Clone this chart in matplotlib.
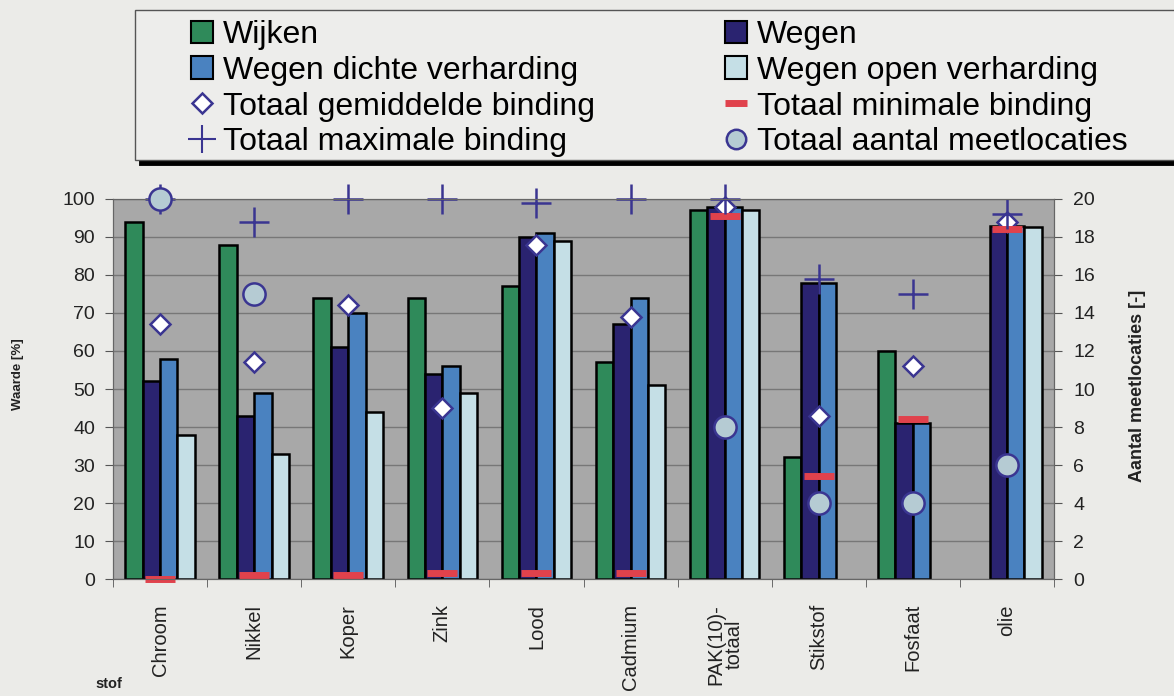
import numpy as np
import matplotlib
matplotlib.use("Agg")
import matplotlib.pyplot as plt
from matplotlib.patches import Patch, Rectangle
from matplotlib.lines import Line2D

plt.rcParams['font.family'] = ['Liberation Sans', 'DejaVu Sans']

nan = np.nan
stoffen = ['Chroom', 'Nikkel', 'Koper', 'Zink', 'Lood', 'Cadmium',
           'PAK(10)-\ntotaal', 'Stikstof', 'Fosfaat', 'olie']
wijken = [94, 88, 74, 74, 77, 57, 97, 32, 60, nan]
wegen = [52, 43, 61, 54, 90, 67, 98, 78, 41, 93]
wegen_dicht = [58, 49, 70, 56, 91, 74, 98, 78, 41, 93]
wegen_open = [38, 33, 44, 49, 89, 51, 97, nan, nan, 92.5]
gem_binding = [67, 57, 72, 45, 88, 69, 98, 43, 56, 94]
min_binding = [0, 1, 1, 1.5, 1.5, 1.5, 95.5, 27, 42, 92]
max_binding = [100, 94, 100, 100, 99, 100, 100, 79, 75, 96]
aantal_locaties = [20, 15, nan, nan, nan, nan, 8, 4, 4, 6]

c_wijken = '#2f8a5a'
c_wegen = '#2a2370'
c_dicht = '#4a82c0'
c_open = '#c5dfe6'
c_marker = '#3a3591'
c_min = '#e0424c'
c_circle = '#b5cbd3'

W, H = 1174, 696
fig = plt.figure(figsize=(W / 100, H / 100), dpi=100)
fig.patch.set_facecolor('#ebebe8')

ax = fig.add_axes([113 / W, 117 / H, 941 / W, 380 / H])
ax.set_facecolor('#a8a8a8')

x = np.arange(len(stoffen)) + 0.5
bw = 0.185
series = [(wijken, c_wijken), (wegen, c_wegen), (wegen_dicht, c_dicht), (wegen_open, c_open)]
for k, (vals, col) in enumerate(series):
    ax.bar(x + (k - 1.5) * bw, vals, bw, color=col, edgecolor='black', linewidth=1.8, zorder=2)

ax.plot(x, gem_binding, ls='none', marker='D', ms=10, mfc='white', mec=c_marker, mew=1.8,
        zorder=3, clip_on=False)
ax.plot(x, min_binding, ls='none', marker='_', ms=21, mec=c_min, mew=5, zorder=4, clip_on=False)
ax.plot(x, max_binding, ls='none', marker='+', ms=22, mec=c_marker, mew=1.8, zorder=5, clip_on=False)

ax.set_xlim(0, len(stoffen))
ax.set_ylim(0, 100)
ax.set_yticks(np.arange(0, 101, 10))
ax.yaxis.grid(True, color='#777777', lw=1)
ax.set_axisbelow(True)
ax.set_xticks(x)
ax.set_xticklabels(stoffen, rotation=90, fontsize=14.5, color='#222222', linespacing=0.95)
ax.set_xticks(np.arange(0, len(stoffen) + 1), minor=True)
ax.tick_params(axis='x', which='major', length=0, pad=18)
ax.tick_params(axis='x', which='minor', length=6, direction='out', color='#555555')
ax.tick_params(axis='y', length=6, direction='out', pad=7, labelsize=14, color='#555555',
               labelcolor='#222222')
for s in ax.spines.values():
    s.set_color('#666666')

ax2 = ax.twinx()
ax2.plot(x, aantal_locaties, ls='none', marker='o', ms=16, mfc=c_circle, mec=c_marker, mew=1.8,
         zorder=6, clip_on=False)
ax2.set_ylim(0, 20)
ax2.set_yticks(np.arange(0, 21, 2))
ax2.tick_params(axis='y', length=6, direction='out', pad=8, labelsize=14, color='#555555',
                labelcolor='#222222')
for s in ax2.spines.values():
    s.set_color('#666666')

fig.text(18 / W, 1 - 374 / H, 'Waarde [%]', rotation=90, ha='center', va='center',
         fontsize=9.5, fontweight='bold', color='#222222')
fig.text(1137 / W, 1 - 386 / H, 'Aantal meetlocaties [-]', rotation=90, ha='center', va='center',
         fontsize=13, fontweight='bold', color='#222222')
fig.text(95 / W, 1 - 684 / H, 'stof', ha='left', va='center', fontsize=10.5,
         fontweight='bold', color='#222222')

# legend box with shadow line
fig.add_artist(Rectangle((135 / W, 1 - 160 / H), (1190 - 135) / W, 150 / H,
                         transform=fig.transFigure, facecolor='#ededeb', edgecolor='#555555', lw=1))
fig.add_artist(Line2D([141 / W, 1.0], [1 - 163 / H] * 2, transform=fig.transFigure,
                      color='black', lw=3.5))

h_wijken = Patch(facecolor=c_wijken, edgecolor='black', lw=1.5)
h_wegen = Patch(facecolor=c_wegen, edgecolor='black', lw=1.5)
h_dicht = Patch(facecolor=c_dicht, edgecolor='black', lw=1.5)
h_open = Patch(facecolor=c_open, edgecolor='black', lw=1.5)
h_gem = Line2D([], [], ls='none', marker='D', ms=10, mfc='white', mec=c_marker, mew=1.8)
h_min = Line2D([], [], ls='none', marker='_', ms=16, mec=c_min, mew=5)
h_max = Line2D([], [], ls='none', marker='+', ms=20, mec=c_marker, mew=1.5)
h_aantal = Line2D([], [], ls='none', marker='o', ms=14, mfc=c_circle, mec=c_marker, mew=1.8)

leg_kw = dict(loc='upper left', frameon=False, borderpad=0, borderaxespad=0, fontsize=23,
              handlelength=0.7, handleheight=0.7, handletextpad=0.3, labelspacing=0.18)
fig.legend([h_wijken, h_dicht, h_gem, h_max],
           ['Wijken', 'Wegen dichte verharding', 'Totaal gemiddelde binding',
            'Totaal maximale binding'],
           bbox_to_anchor=(191 / W, 1 - 20 / H), **leg_kw)
fig.legend([h_wegen, h_open, h_min, h_aantal],
           ['Wegen', 'Wegen open verharding', 'Totaal minimale binding',
            'Totaal aantal meetlocaties'],
           bbox_to_anchor=(725 / W, 1 - 20 / H), **leg_kw)

fig.savefig('out.png', dpi=100, facecolor=fig.get_facecolor())
